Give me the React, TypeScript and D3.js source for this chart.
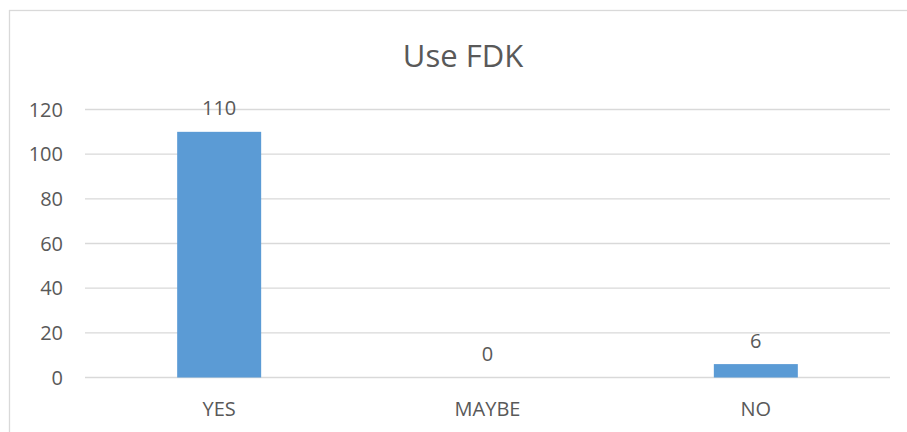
import React from "react";
import * as d3 from "d3";

const categories = ["YES", "MAYBE", "NO"];
const values = [110, 0, 6];
const yTicks = [0, 20, 40, 60, 80, 100, 120];
const title = "Use FDK";

const W = 907;
const H = 432;
const FONT = "'Open Sans', sans-serif";
const TEXT = "#595959";
const GRID = "#D9D9D9";
const BAR = "#5B9BD5";

export default function App() {
  const x = d3.scaleBand<string>().domain(categories).range([85, 890]).padding(0);
  const y = d3.scaleLinear().domain([0, 120]).range([377.5, 109.5]);
  const bw = x.bandwidth() * 0.313;

  return (
    <svg
      width={W}
      height={H}
      style={{ position: "absolute", left: 0, top: 0, display: "block", background: "#fff" }}
    >
      <rect x={9.5} y={10.5} width={920} height={440} fill="#fff" stroke={GRID} strokeWidth={1.3} />
      <text x={463} y={67} textAnchor="middle" fontFamily={FONT} fontSize={31} fill={TEXT}>
        {title}
      </text>
      {yTicks.map((t) => (
        <g key={t}>
          <line x1={85} x2={890} y1={y(t)} y2={y(t)} stroke={GRID} strokeWidth={1.3} />
          <text x={63} y={y(t) + 7} textAnchor="end" fontFamily={FONT} fontSize={20} fill={TEXT}>
            {t}
          </text>
        </g>
      ))}
      {categories.map((c, i) => {
        const cx = (x(c) as number) + x.bandwidth() / 2;
        return (
          <g key={c}>
            {values[i] > 0 && (
              <rect x={cx - bw / 2} y={y(values[i])} width={bw} height={y(0) - y(values[i])} fill={BAR} />
            )}
            <text x={cx} y={y(values[i]) - 16.5} textAnchor="middle" fontFamily={FONT} fontSize={20} fill={TEXT}>
              {values[i]}
            </text>
            <text x={cx} y={416} textAnchor="middle" fontFamily={FONT} fontSize={20} fill={TEXT}>
              {c}
            </text>
          </g>
        );
      })}
    </svg>
  );
}
